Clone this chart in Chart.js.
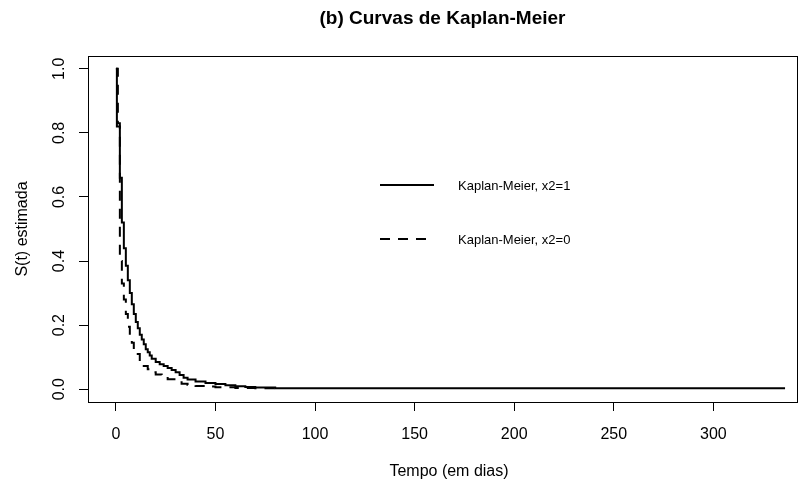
<!DOCTYPE html>
<html>
<head>
<meta charset="utf-8">
<script src="https://cdn.jsdelivr.net/npm/chart.js@4.4.1/dist/chart.umd.min.js"></script>
<style>
  html, body { margin: 0; padding: 0; background: #fff; }
  #wrap { width: 800px; height: 485px; }
</style>
</head>
<body>
<div id="wrap"><canvas id="km"></canvas></div>
<script>
// ── DATA ────────────────────────────────────────────────
const chartTitle = "(b) Curvas de Kaplan-Meier";
const xTitle = "Tempo (em dias)";
const yTitle = "S(t) estimada";

// Kaplan-Meier, x2=1 (solid)
const tempo1 = [0, 0.5, 2, 3, 4, 5, 6, 7, 8, 9, 10, 11, 12, 13, 14, 15, 16, 17, 18, 20, 22, 24, 26, 28, 30, 32, 34, 36, 40, 45, 50, 55, 60, 65, 70, 80, 336];
const surv1  = [1, 0.82, 0.66, 0.52, 0.44, 0.385, 0.34, 0.30, 0.265, 0.235, 0.21, 0.19, 0.17, 0.155, 0.14, 0.125, 0.115, 0.105, 0.095, 0.085, 0.078, 0.072, 0.066, 0.06, 0.053, 0.044, 0.036, 0.03, 0.024, 0.019, 0.016, 0.012, 0.009, 0.007, 0.005, 0.003, 0.003];

// Kaplan-Meier, x2=0 (dashed)
const tempo2 = [0, 1, 2, 3, 4, 5, 6, 7, 8, 9, 10, 12, 14, 16, 18, 20, 23, 26, 30, 33, 36, 40, 45, 50, 60, 70, 80];
const surv2  = [1, 0.83, 0.40, 0.33, 0.28, 0.235, 0.195, 0.165, 0.145, 0.125, 0.11, 0.088, 0.072, 0.062, 0.053, 0.046, 0.038, 0.031, 0.022, 0.017, 0.013, 0.01, 0.008, 0.006, 0.004, 0.003, 0.002];

const legendLabels = ["Kaplan-Meier, x2=1", "Kaplan-Meier, x2=0"];
const xTicks = [0, 50, 100, 150, 200, 250, 300];
const yTicks = [0, 0.2, 0.4, 0.6, 0.8, 1.0];

const FONT = "'Liberation Sans', Arial, sans-serif";

function toPoints(xs, ys) {
  return xs.map((x, i) => ({ x: x, y: ys[i] }));
}

// ── R-style decorations: box, rotated y labels, titles, legend ─────
const rStylePlugin = {
  id: "rStyle",
  afterDraw(chart) {
    const ctx = chart.ctx;
    const a = chart.chartArea;
    const yScale = chart.scales.y;
    ctx.save();

    // box round the plot region
    ctx.strokeStyle = "#000";
    ctx.lineWidth = 1;
    ctx.strokeRect(Math.round(a.left) + 0.5, Math.round(a.top) + 0.5,
      Math.round(a.right - a.left), Math.round(a.bottom - a.top));

    // y tick labels, parallel to the axis
    ctx.fillStyle = "#000";
    ctx.font = "16px " + FONT;
    ctx.textAlign = "center";
    ctx.textBaseline = "alphabetic";
    yTicks.forEach(v => {
      const py = yScale.getPixelForValue(v);
      ctx.save();
      ctx.translate(63.5, py);
      ctx.rotate(-Math.PI / 2);
      ctx.fillText(v.toFixed(1), 0, 0);
      ctx.restore();
    });

    // x axis title
    ctx.fillText(xTitle, 449, 476);

    // main title, centred on the plot region
    ctx.font = "bold 19px " + FONT;
    ctx.fillText(chartTitle, (a.left + a.right) / 2, 23.5);

    // legend (no frame)
    ctx.font = "13px " + FONT;
    ctx.textAlign = "left";
    ctx.textBaseline = "middle";
    ctx.lineWidth = 2;
    const rows = [{ y: 185, dash: [] }, { y: 239, dash: [10, 8] }];
    rows.forEach((r, i) => {
      ctx.setLineDash(r.dash);
      ctx.beginPath();
      ctx.moveTo(380, r.y);
      ctx.lineTo(434, r.y);
      ctx.stroke();
      ctx.setLineDash([]);
      ctx.fillText(legendLabels[i], 458, r.y + 1);
    });

    ctx.restore();
  }
};

new Chart(document.getElementById("km").getContext("2d"), {
  type: "line",
  data: {
    datasets: [
      {
        label: legendLabels[0],
        data: toPoints(tempo1, surv1),
        borderColor: "#000",
        borderWidth: 2,
        stepped: "before",
        pointRadius: 0,
        fill: false
      },
      {
        label: legendLabels[1],
        data: toPoints(tempo2, surv2),
        borderColor: "#000",
        borderWidth: 2,
        borderDash: [10, 8],
        stepped: "before",
        pointRadius: 0,
        fill: false
      }
    ]
  },
  options: {
    responsive: true,
    maintainAspectRatio: false,
    animation: false,
    layout: { padding: { top: 56, right: 3, left: 0, bottom: 0 } },
    plugins: {
      legend: { display: false },
      title: { display: false },
      tooltip: { enabled: false }
    },
    scales: {
      x: {
        type: "linear",
        min: -14,
        max: 342,
        afterBuildTicks: s => { s.ticks = xTicks.map(v => ({ value: v })); },
        afterFit: s => { s.height = 83; },
        border: { display: false },
        grid: { drawOnChartArea: false, drawTicks: true, tickLength: 9, color: "#000", lineWidth: 1 },
        ticks: { color: "#000", font: { family: FONT, size: 16 }, padding: 14, maxRotation: 0, autoSkip: false },
        title: { display: false }
      },
      y: {
        type: "linear",
        min: -0.04,
        max: 1.04,
        afterBuildTicks: s => { s.ticks = yTicks.map(v => ({ value: v })); },
        afterFit: s => { s.width = 88; },
        border: { display: false },
        grid: { drawOnChartArea: false, drawTicks: true, tickLength: 9, color: "#000", lineWidth: 1 },
        ticks: { display: false },
        title: { display: true, text: yTitle, color: "#000", font: { family: FONT, size: 16 }, padding: { top: 13, bottom: 0 } }
      }
    }
  },
  plugins: [rStylePlugin]
});
</script>
</body>
</html>
